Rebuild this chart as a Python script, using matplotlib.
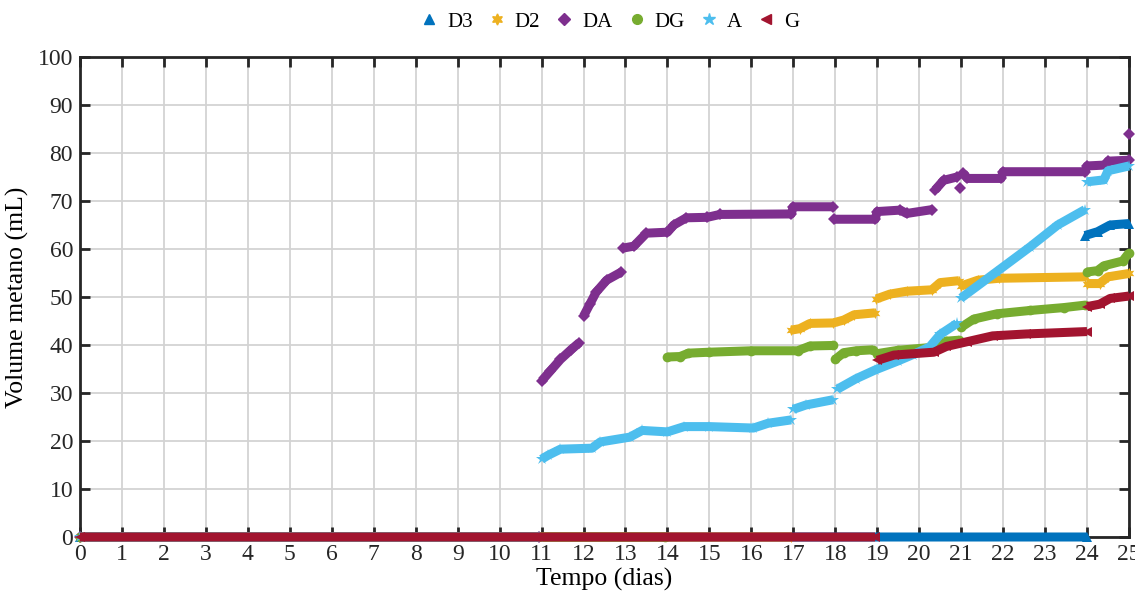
import numpy as np
import matplotlib
matplotlib.use("Agg")
import matplotlib.pyplot as plt
from matplotlib.lines import Line2D

nan = np.nan

# tempo (dias) / volume metano (mL); nan separa os trechos
d3_t = [0, 24.0, nan, 23.95, 24.25, 24.55, 25.0]
d3_v = [0, 0, nan, 62.8, 63.6, 65.0, 65.3]

d2_t = [0, 16.95, nan, 16.95, 17.15, 17.4, 17.95, 18.2, 18.45, 18.95, nan,
        18.98, 19.3, 19.7, 20.3, 20.5, 20.95, nan,
        21.0, 21.4, 21.9, 23.95, nan, 24.0, 24.3, 24.5, 25.0]
d2_v = [0, 0, nan, 43.1, 43.4, 44.5, 44.6, 45.2, 46.3, 46.7, nan,
        49.6, 50.6, 51.2, 51.5, 53.0, 53.4, nan,
        52.3, 53.5, 53.9, 54.2, nan, 52.8, 52.8, 54.2, 54.9]

da_t = [0, 10.95, nan, 11.0, 11.2, 11.45, 11.7, 11.9, nan,
        12.0, 12.15, 12.3, 12.55, 12.9, nan,
        12.95, 13.2, 13.5, 14.0, 14.15, 14.45, 14.95, 15.25, 16.95, 17.0, 17.95, nan,
        17.97, 18.95, 19.0, 19.55, 19.7, 20.3, nan,
        20.38, 20.58, 20.9, nan, 20.98, nan,
        21.05, 21.15, 21.95, 22.0, 23.95, 24.0, 24.45, 24.5, 25.0, nan, 25.0]
da_v = [0, 0, nan, 32.5, 34.5, 37.0, 39.0, 40.5, nan,
        46.0, 48.5, 51.0, 53.5, 55.2, nan,
        60.2, 60.6, 63.3, 63.5, 65.0, 66.5, 66.6, 67.2, 67.3, 68.8, 68.8, nan,
        66.2, 66.2, 67.8, 68.1, 67.4, 68.2, nan,
        72.3, 74.3, 75.0, nan, 72.8, nan,
        75.8, 74.7, 74.7, 76.1, 76.1, 77.3, 77.5, 78.3, 78.5, nan, 84.0]

dg_t = [0, 13.95, nan, 14.0, 14.3, 14.5, 15.0, 16.0, 17.1, 17.4, 17.95, nan,
        18.0, 18.2, 18.5, 18.9, nan, 19.0, 19.5, 20.3, 20.65, 20.95, nan,
        21.0, 21.3, 21.85, 22.65, 23.45, 23.95, nan,
        24.0, 24.25, 24.4, 24.85, 25.0]
dg_v = [0, 0, nan, 37.5, 37.6, 38.3, 38.5, 38.8, 38.8, 39.8, 39.9, nan,
        37.0, 38.4, 38.8, 39.0, nan, 38.2, 38.9, 39.5, 40.8, 41.0, nan,
        43.7, 45.4, 46.5, 47.2, 47.8, 48.3, nan,
        55.2, 55.5, 56.5, 57.5, 59.2]

a_t = [0, 10.95, nan, 11.0, 11.15, 11.45, 12.2, 12.4, 13.1, 13.4, 14.0, 14.4, 15.0,
       16.05, 16.4, 16.95, nan, 17.0, 17.3, 17.95, nan,
       18.05, 18.5, 18.95, 19.5, 19.85, 20.25, 20.5, 20.9, nan,
       21.0, 21.85, 22.65, 23.3, 23.95, nan, 24.0, 24.4, 24.5, 25.0]
a_v = [0, 0, nan, 16.2, 17.0, 18.3, 18.5, 19.8, 20.8, 22.2, 21.9, 23.0, 23.0,
       22.7, 23.7, 24.4, nan, 26.6, 27.5, 28.6, nan,
       30.8, 33.0, 34.8, 36.7, 38.0, 39.6, 42.2, 44.5, nan,
       49.8, 55.3, 60.5, 65.0, 68.2, nan, 74.0, 74.4, 76.3, 77.3]

g_t = [0, 18.95, nan, 19.0, 19.4, 20.35, 20.65, 21.15, 21.75, 22.55, 24.0, nan,
       24.0, 24.3, 24.55, 25.0]
g_v = [0, 0, nan, 36.8, 37.9, 38.5, 39.7, 40.7, 41.9, 42.3, 42.8, nan,
       48.0, 48.5, 49.7, 50.2]

names = ["D3", "D2", "DA", "DG", "A", "G"]
cores = ["#0072BD", "#EDB120", "#7E2F8E", "#77AC30", "#4DBEEE", "#A2142F"]
marcas = ["^", (6, 1, 0), "D", "o", "*", "<"]
tamanhos = [8, 9, 7, 8, 10, 8]

plt.rcParams["font.family"] = ["Liberation Serif", "DejaVu Serif"]

fig = plt.figure(figsize=(11.35, 5.94), dpi=100)
ax = fig.add_axes([80 / 1135, 57 / 594, 1049 / 1135, 480 / 594])

series = [(d3_t, d3_v), (d2_t, d2_v), (da_t, da_v), (dg_t, dg_v), (a_t, a_v), (g_t, g_v)]
for (t, v), c, m, s in zip(series, cores, marcas, tamanhos):
    ax.plot(t, v, color=c, lw=6.5, marker=m, markersize=s - 1, markeredgewidth=0,
            solid_capstyle="butt", clip_on=False, zorder=3)

ax.set_xlim(0, 25)
ax.set_ylim(0, 100)
ax.set_xticks(range(0, 26))
ax.set_yticks(range(0, 101, 10))
ax.grid(True, color="#d3d3d3", lw=1.3)
ax.set_axisbelow(True)
for sp in ax.spines.values():
    sp.set_linewidth(2)
    sp.set_color("#262626")
ax.tick_params(direction="in", length=7, width=2, top=True, right=True,
               labelsize=17, colors="#262626", pad=5)
ax.set_xlabel("Tempo (dias)", fontsize=18.5, labelpad=2)
ax.set_ylabel("Volume metano (mL)", fontsize=18.5, labelpad=6)

handles = [Line2D([], [], color=c, marker=m, markersize=s - 1, linestyle="none")
           for c, m, s in zip(cores, marcas, tamanhos)]
fig.legend(handles, names, loc="center", bbox_to_anchor=(610 / 1135, 1 - 22 / 594),
           ncol=6, frameon=False, fontsize=15, handlelength=0.8, handletextpad=0.47,
           columnspacing=0.75)

fig.savefig("out.png", dpi=100)
